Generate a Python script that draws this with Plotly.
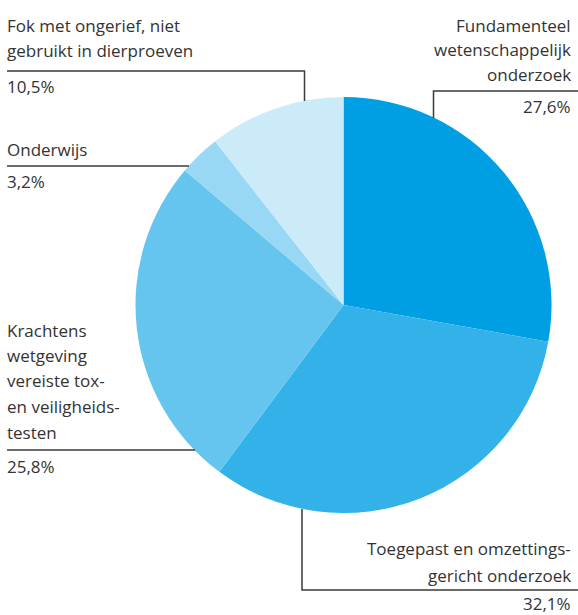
import plotly.graph_objects as go

W, H = 578, 615

categories = [
    "Fundamenteel wetenschappelijk onderzoek",
    "Toegepast en omzettingsgericht onderzoek",
    "Krachtens wetgeving vereiste tox- en veiligheidstesten",
    "Onderwijs",
    "Fok met ongerief, niet gebruikt in dierproeven",
]
values = [27.6, 32.1, 25.8, 3.2, 10.5]
colors = ["#009FE3", "#33B2E9", "#66C5EE", "#99D8F4", "#CCEBF9"]

# label text lines as printed in the chart
label_lines = [
    ["Fundamenteel", "wetenschappelijk", "onderzoek"],
    ["Toegepast en omzettings-", "gericht onderzoek"],
    ["Krachtens", "wetgeving", "vereiste tox-", "en veiligheids-", "testen"],
    ["Onderwijs"],
    ["Fok met ongerief, niet", "gebruikt in dierproeven"],
]
pct_labels = [f"{v:.1f}%".replace(".", ",") for v in values]


def px(x):
    return x / W


def py(y):
    return 1 - y / H


# pie placement (pixels)
cx, cy, r = 343.5, 305, 208

fig = go.Figure(
    go.Pie(
        labels=categories,
        values=values,
        sort=False,
        direction="clockwise",
        rotation=0,
        marker=dict(colors=colors, line=dict(width=0)),
        textinfo="none",
        hoverinfo="label+percent",
        showlegend=False,
        domain=dict(x=[px(cx - r), px(cx + r)], y=[py(cy + r), py(cy - r)]),
    )
)

font_family = "'Open Sans', 'Noto Sans', sans-serif"
fsize = 17
tcolor = "#333333"

# text layout: (x anchor pixel, anchor side, line centres, pct centre)
layout_spec = [
    (572, "right", [25, 49, 74], 106),
    (572, "right", [548, 575], 603),
    (6, "left", [330, 355, 380, 406, 432], 466),
    (6, "left", [149], 182),
    (6, "left", [26, 50], 86),
]

annotations = []
for lines, pct, (ax, side, centres, pc) in zip(label_lines, pct_labels, layout_spec):
    for t, yc in zip(lines, centres):
        annotations.append(dict(
            x=px(ax), y=py(yc), xref="paper", yref="paper", text=t,
            showarrow=False, xanchor=side, yanchor="middle", borderpad=0,
            font=dict(family=font_family, size=fsize, color=tcolor),
        ))
    annotations.append(dict(
        x=px(ax), y=py(pc), xref="paper", yref="paper", text=pct,
        showarrow=False, xanchor=side, yanchor="middle", borderpad=0,
        font=dict(family=font_family, size=fsize, color=tcolor),
    ))

lc = dict(color="#3a3a3a", width=1.5)
# leader lines (pixel paths)
paths = [
    [(578, 91), (433.5, 91), (433.5, 118)],
    [(578, 590), (302, 590), (302, 509)],
    [(7, 450), (195, 450)],
    [(7, 166), (189, 166)],
    [(7, 71), (304.5, 71), (304.5, 101)],
]
shapes = []
for p in paths:
    d = "M " + " L ".join(f"{px(x)},{py(y)}" for x, y in p)
    shapes.append(dict(type="path", xref="paper", yref="paper", path=d, line=lc))

fig.update_layout(
    width=W, height=H,
    margin=dict(l=0, r=0, t=0, b=0),
    paper_bgcolor="white", plot_bgcolor="white",
    annotations=annotations, shapes=shapes,
)
fig.write_html(
    "out.html",
    config={"displayModeBar": False},
    post_script="document.body.style.margin='0';document.body.style.overflow='hidden';",
)
